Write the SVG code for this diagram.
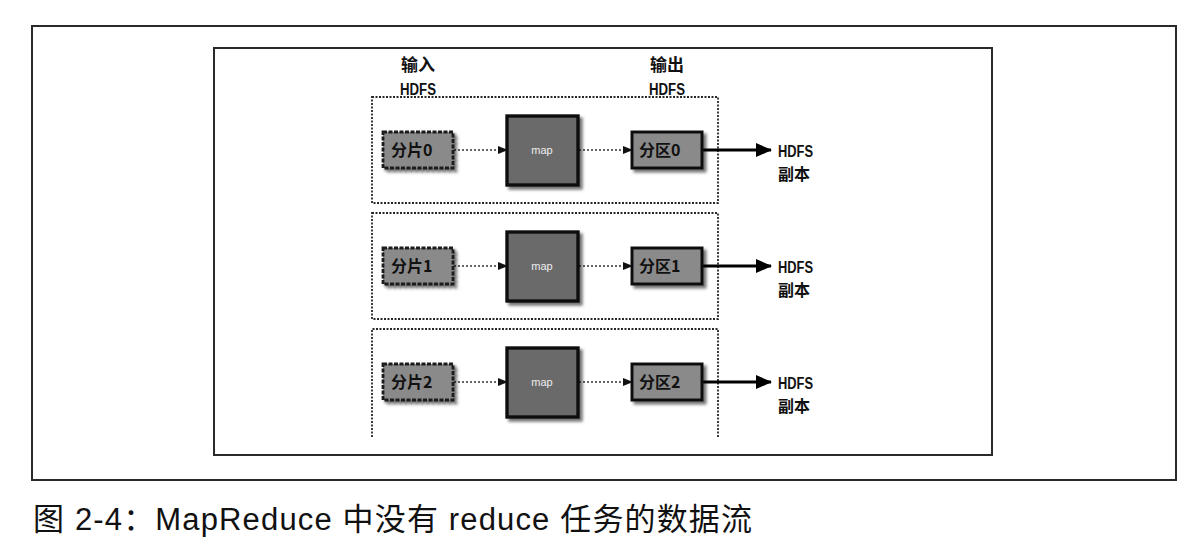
<svg xmlns="http://www.w3.org/2000/svg" width="1202" height="556" viewBox="0 0 1202 556">
<style>
  .frame{fill:none;stroke:#2a2a2a;stroke-width:2}
  .panel{fill:none;stroke:#262626;stroke-width:1.8;stroke-dasharray:2 1.5}
  .split{fill:#8a8a8a;stroke:#1a1a1a;stroke-width:2.8;stroke-dasharray:4 1.5}
  .map{fill:#6a6a6a;stroke:#111;stroke-width:3.4}
  .part{fill:#8a8a8a;stroke:#111;stroke-width:3}
  .dot{fill:none;stroke:#333;stroke-width:1.6;stroke-dasharray:2 2}
  .solid{fill:none;stroke:#000;stroke-width:3}
  .cjk{font-family:"Noto Sans CJK SC","Liberation Sans",sans-serif;font-weight:bold;fill:#111}
  .lat{font-family:"Liberation Sans","Noto Sans CJK SC",sans-serif;font-weight:bold;fill:#111}
  .box{font-family:"Noto Sans CJK SC","Liberation Sans",sans-serif;font-weight:bold;font-size:16px;fill:#111}
  .maplbl{font-family:"Liberation Sans",sans-serif;font-size:11px;fill:#eee;text-anchor:middle}
  .cap{font-family:"Liberation Sans","Noto Sans CJK SC",sans-serif;font-size:31px;fill:#111}
</style>
<defs>
  <filter id="sh" x="-20%" y="-20%" width="150%" height="150%">
    <feDropShadow dx="3" dy="3" stdDeviation="1.8" flood-color="#000" flood-opacity="0.55"/>
  </filter>
  <marker id="ad" markerWidth="10" markerHeight="10" refX="9" refY="5" orient="auto" markerUnits="userSpaceOnUse">
    <path d="M0,1 L10,5 L0,9 Z" fill="#111"/>
  </marker>
  <marker id="as" markerWidth="16" markerHeight="14" refX="15" refY="7" orient="auto" markerUnits="userSpaceOnUse">
    <path d="M0,0 L16,7 L0,14 Z" fill="#000"/>
  </marker>
</defs>
<rect width="1202" height="556" fill="#fff"/>
<g id="frames">
  <rect class="frame" x="32" y="26" width="1144" height="454"/>
  <rect class="frame" x="214" y="48" width="778" height="407"/>
</g>
<g id="panels">
  <path class="panel" d="M372,97 H718 V203 H372 Z"/>
  <path class="panel" d="M372,213 H718 V319 H372 Z"/>
  <path class="panel" d="M372,437 V329 H718 V437"/>
</g>
<g id="headers">
  <text class="cjk" x="418" y="71" font-size="17" text-anchor="middle">输入</text>
  <text class="lat" x="418" y="95" font-size="16" text-anchor="middle" textLength="36" lengthAdjust="spacingAndGlyphs">HDFS</text>
  <text class="cjk" x="667" y="71" font-size="17" text-anchor="middle">输出</text>
  <text class="lat" x="667" y="95" font-size="16" text-anchor="middle" textLength="36" lengthAdjust="spacingAndGlyphs">HDFS</text>
</g>
<g id="connectors">
  <line class="dot" x1="454" y1="150" x2="507" y2="150" marker-end="url(#ad)"/>
  <line class="dot" x1="579" y1="150" x2="632" y2="150" marker-end="url(#ad)"/>
  <line class="solid" x1="703" y1="150" x2="771" y2="150" marker-end="url(#as)"/>
  <line class="dot" x1="454" y1="266" x2="507" y2="266" marker-end="url(#ad)"/>
  <line class="dot" x1="579" y1="266" x2="632" y2="266" marker-end="url(#ad)"/>
  <line class="solid" x1="703" y1="266" x2="771" y2="266" marker-end="url(#as)"/>
  <line class="dot" x1="454" y1="382" x2="507" y2="382" marker-end="url(#ad)"/>
  <line class="dot" x1="579" y1="382" x2="632" y2="382" marker-end="url(#ad)"/>
  <line class="solid" x1="703" y1="382" x2="771" y2="382" marker-end="url(#as)"/>
</g>
<g id="split0"><rect class="split" x="383" y="132" width="70" height="36" filter="url(#sh)"/><text class="box" x="391" y="156">分片0</text></g>
<g id="map0"><rect class="map" x="507" y="116" width="71" height="69" filter="url(#sh)"/><text class="maplbl" x="542" y="154">map</text></g>
<g id="part0"><rect class="part" x="632" y="132" width="70" height="36" filter="url(#sh)"/><text class="box" x="639" y="156">分区0</text></g>
<g id="out0"><text class="lat" x="778" y="157" font-size="16" textLength="35" lengthAdjust="spacingAndGlyphs">HDFS</text><text class="cjk" x="778" y="180" font-size="16">副本</text></g>

<g id="split1"><rect class="split" x="383" y="248" width="70" height="36" filter="url(#sh)"/><text class="box" x="391" y="272">分片1</text></g>
<g id="map1"><rect class="map" x="507" y="232" width="71" height="69" filter="url(#sh)"/><text class="maplbl" x="542" y="270">map</text></g>
<g id="part1"><rect class="part" x="632" y="248" width="70" height="36" filter="url(#sh)"/><text class="box" x="639" y="272">分区1</text></g>
<g id="out1"><text class="lat" x="778" y="273" font-size="16" textLength="35" lengthAdjust="spacingAndGlyphs">HDFS</text><text class="cjk" x="778" y="296" font-size="16">副本</text></g>

<g id="split2"><rect class="split" x="383" y="364" width="70" height="36" filter="url(#sh)"/><text class="box" x="391" y="388">分片2</text></g>
<g id="map2"><rect class="map" x="507" y="348" width="71" height="69" filter="url(#sh)"/><text class="maplbl" x="542" y="386">map</text></g>
<g id="part2"><rect class="part" x="632" y="364" width="70" height="36" filter="url(#sh)"/><text class="box" x="639" y="388">分区2</text></g>
<g id="out2"><text class="lat" x="778" y="389" font-size="16" textLength="35" lengthAdjust="spacingAndGlyphs">HDFS</text><text class="cjk" x="778" y="412" font-size="16">副本</text></g>

<g id="caption"><text class="cap" x="33" y="530" textLength="719" lengthAdjust="spacing">图 2-4：MapReduce 中没有 reduce 任务的数据流</text></g>
</svg>
